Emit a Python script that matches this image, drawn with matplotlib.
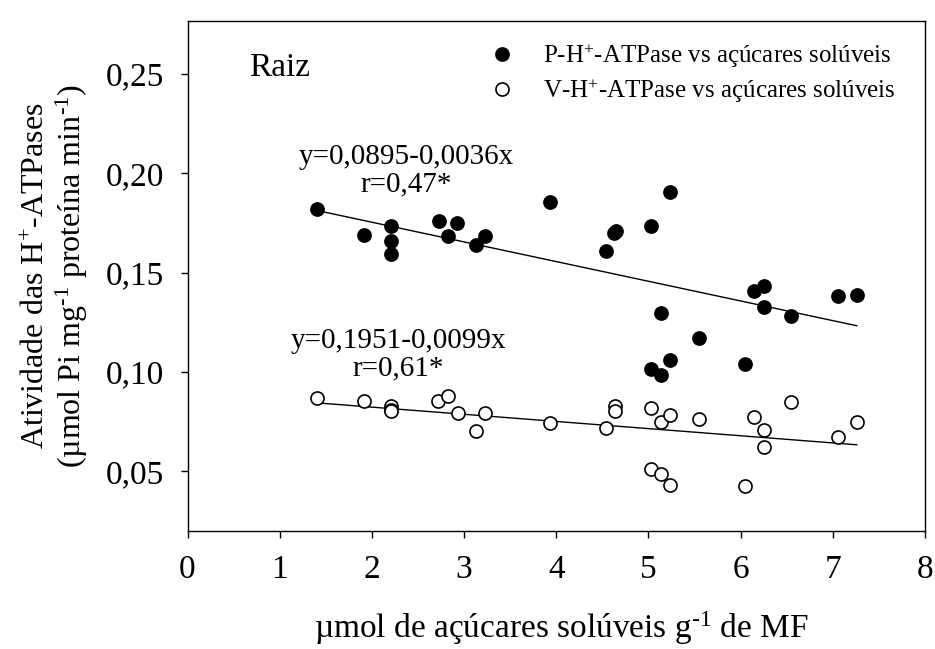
import numpy as np
import matplotlib
matplotlib.use("Agg")
import matplotlib.pyplot as plt

plt.rcParams['font.family'] = ['Liberation Serif', 'DejaVu Serif']
plt.rcParams['mathtext.fontset'] = 'custom'
plt.rcParams['mathtext.rm'] = 'Liberation Serif'
plt.rcParams['mathtext.it'] = 'Liberation Serif:italic'

# soluble sugars (umol g-1 MF) and ATPase activity, root samples
sugar_p = [1.41, 1.91, 2.21, 2.21, 2.21, 2.73, 2.83, 2.92, 3.13, 3.23,
           3.93, 4.54, 4.63, 4.65, 5.03, 5.23, 5.14, 5.55, 5.23, 5.03,
           5.14, 6.05, 6.14, 6.25, 6.25, 6.55, 7.06, 7.26]
p_atpase = [0.1817, 0.169, 0.1736, 0.1661, 0.1594, 0.1758, 0.1683, 0.175, 0.164, 0.1683,
            0.1853, 0.161, 0.1698, 0.1708, 0.1736, 0.1904, 0.1297, 0.117, 0.1061, 0.1013,
            0.0986, 0.1038, 0.1406, 0.143, 0.1326, 0.128, 0.138, 0.1388]

sugar_v = [1.41, 1.91, 2.21, 2.21, 2.21, 2.72, 2.83, 2.93, 3.13, 3.23,
           3.93, 4.54, 4.64, 4.64, 5.03, 5.03, 5.14, 5.14, 5.23, 5.23,
           5.55, 6.05, 6.14, 6.25, 6.25, 6.55, 7.06, 7.26]
v_atpase = [0.087, 0.0853, 0.0828, 0.081, 0.0802, 0.0853, 0.0878, 0.0795, 0.0703, 0.0795,
            0.0743, 0.0718, 0.0828, 0.0802, 0.082, 0.051, 0.0748, 0.0485, 0.0781, 0.043,
            0.0761, 0.0426, 0.0773, 0.071, 0.0621, 0.0848, 0.0672, 0.0748]

# fitted lines (intercept, slope)
fit_p = (0.1951, -0.0099)
fit_v = (0.0895, -0.0036)
xfit = np.array([min(sugar_p), max(sugar_p)])

sup_plus = '$^{\\text{+}}$'
sup_m1 = '$^{\\text{-1}}$'

fig = plt.figure(figsize=(9.35, 6.49), dpi=100)
ax = fig.add_axes([187.5 / 935, 118 / 649, 737.5 / 935, 510 / 649])

ax.plot(sugar_p, p_atpase, 'o', color='black', ms=9.6, ls='none',
        label='P-H' + sup_plus + '-ATPase vs açúcares solúveis', zorder=3)
ax.plot(sugar_v, v_atpase, 'o', mfc='white', mec='black', mew=1.2, ms=9.4, ls='none',
        label='V-H' + sup_plus + '-ATPase vs açúcares solúveis', zorder=3)
ax.plot(xfit, fit_p[0] + fit_p[1] * xfit, color='black', lw=1.0, zorder=2)
ax.plot(xfit, fit_v[0] + fit_v[1] * xfit, color='black', lw=1.0, zorder=2)

ax.text(2.37, 0.2013, 'y=0,0895-0,0036x\nr=0,47*', ha='center', va='center',
        fontsize=21, linespacing=1.05)
ax.text(2.29, 0.1088, 'y=0,1951-0,0099x\nr=0,61*', ha='center', va='center',
        fontsize=21, linespacing=1.05)
ax.text(0.667, 0.2528, 'Raiz', ha='left', va='center', fontsize=24)

ax.legend(loc='upper left', bbox_to_anchor=(0.4095, 0.959), frameon=False,
          fontsize=18, borderpad=0, handlelength=1.0, handletextpad=1.14,
          labelspacing=0.3, borderaxespad=0)

ax.set_xlim(0, 8)
ax.set_ylim(0.02, 0.2765)
ax.set_xticks(range(0, 9))
ax.set_yticks([0.05, 0.10, 0.15, 0.20, 0.25])
ax.set_yticklabels(['0,05', '0,10', '0,15', '0,20', '0,25'])
ax.tick_params(direction='out', length=5, width=1.0, labelsize=24)
ax.tick_params(axis='x', pad=12)
ax.tick_params(axis='y', pad=12)
for s in ax.spines.values():
    s.set_linewidth(1.0)

ax.set_xlabel('µmol de açúcares solúveis g' + sup_m1 + ' de MF', fontsize=24)
ax.xaxis.set_label_coords(0.507, -0.210)
ax.xaxis.label.set_va('baseline')
ax.set_ylabel('Atividade das H' + sup_plus + '-ATPases\n'
              '(µmol Pi mg' + sup_m1 + ' proteína min' + sup_m1 + ')',
              fontsize=23, linespacing=1.1)
ax.yaxis.set_label_coords(-0.132, 0.5)

fig.savefig('out.png', dpi=100)
